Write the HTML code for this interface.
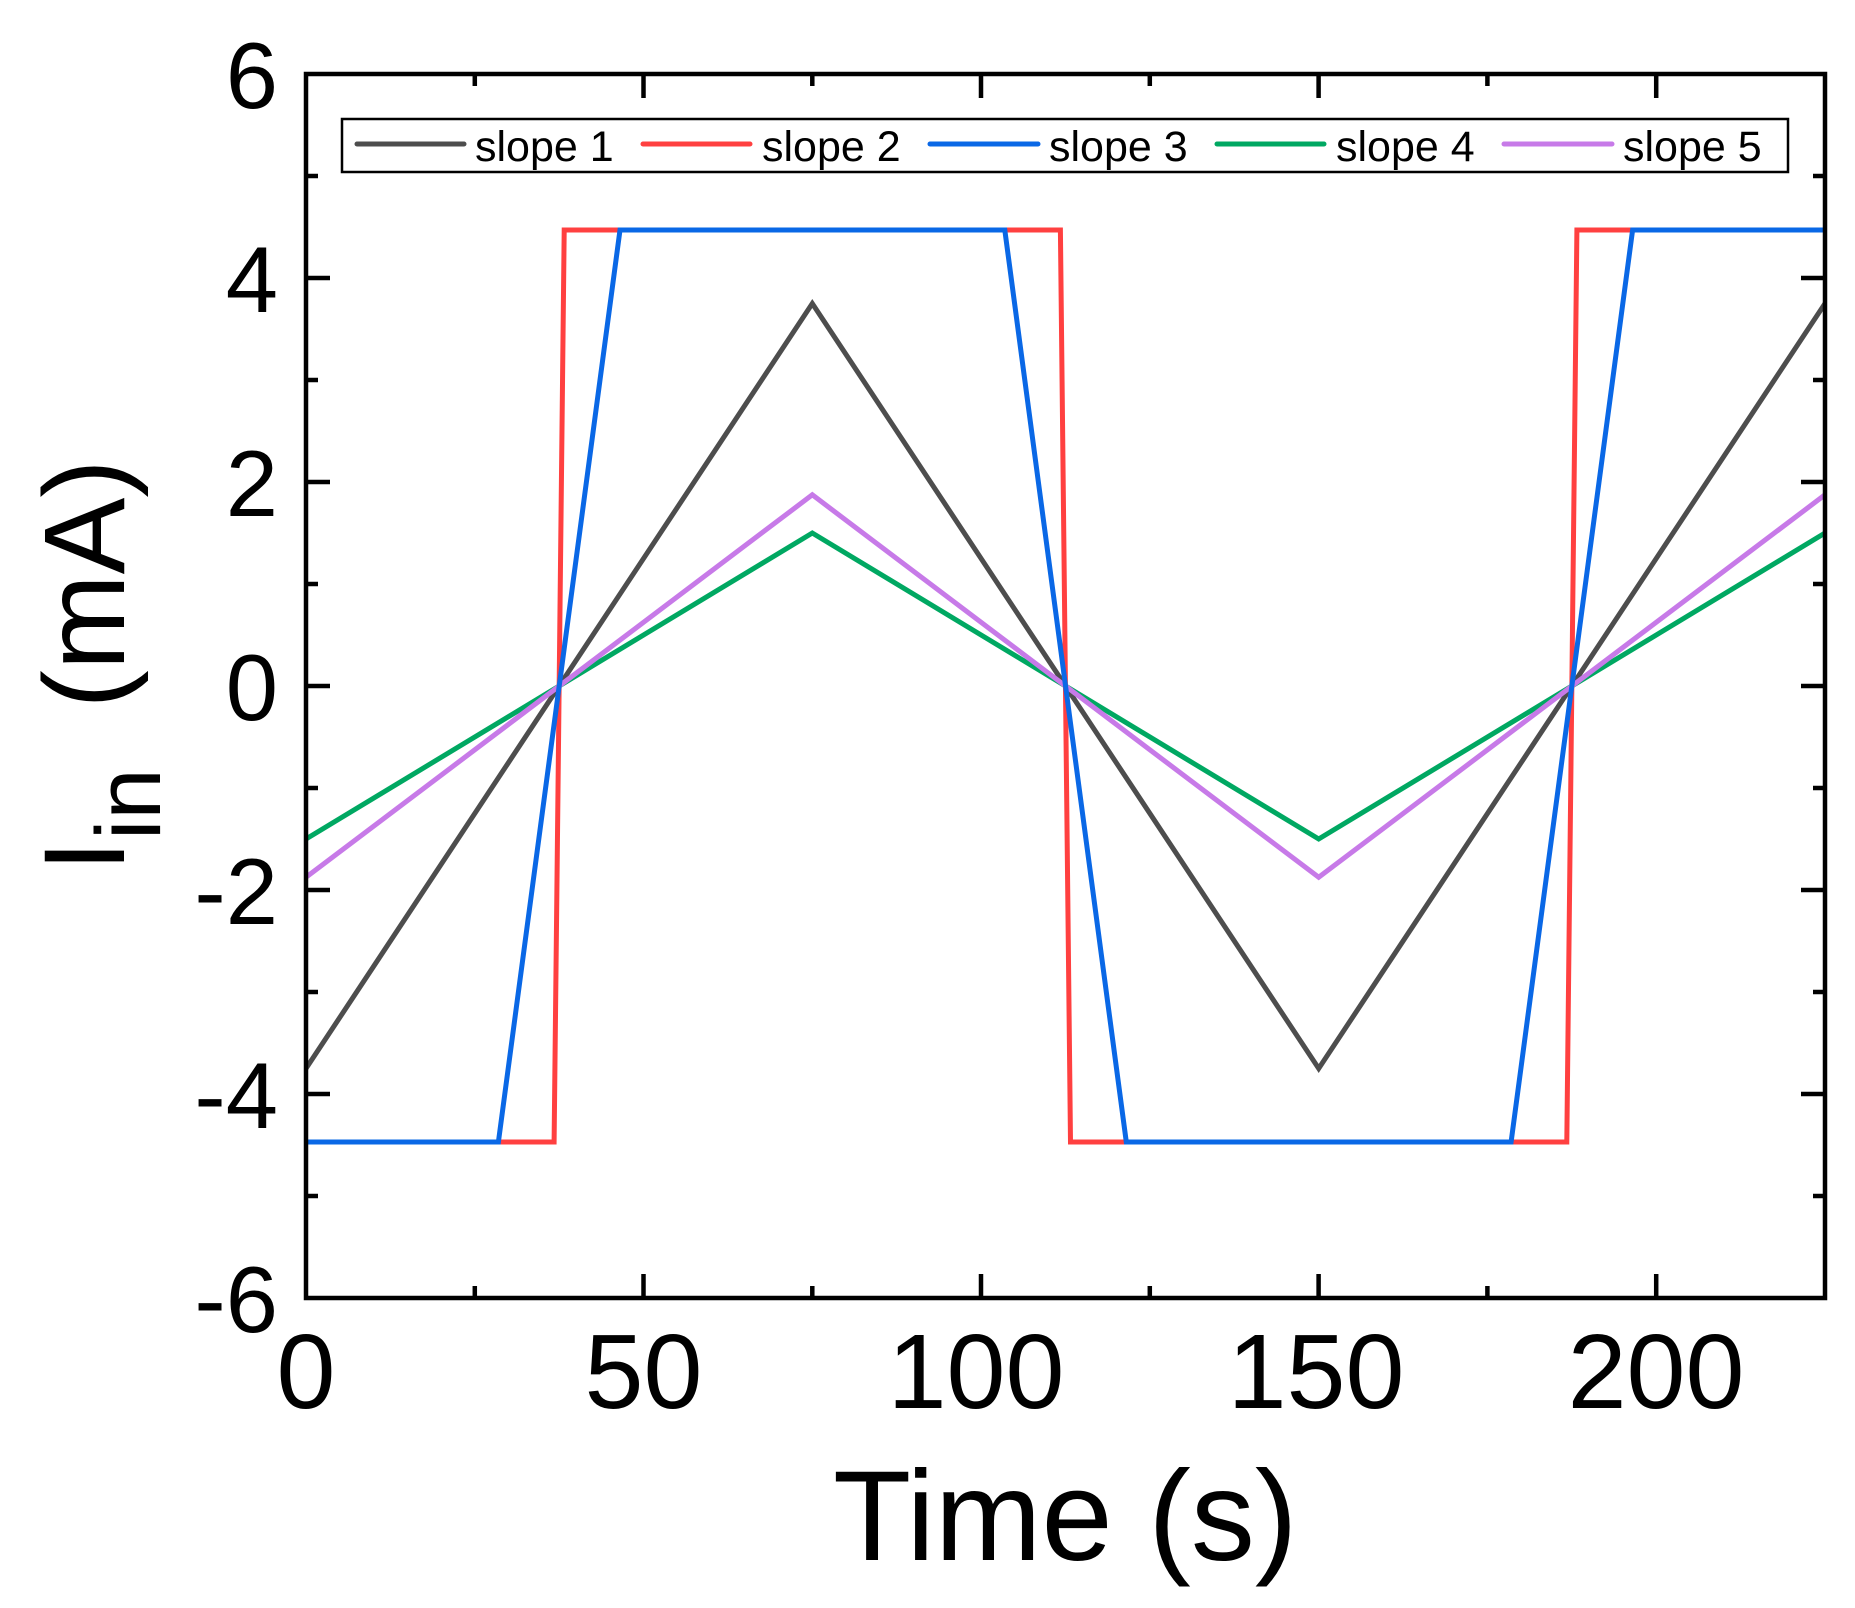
<!DOCTYPE html>
<html><head><meta charset="utf-8"><style>html,body{margin:0;padding:0;background:#fff}svg{display:block}</style></head>
<body>
<svg width="1855" height="1608" viewBox="0 0 1855 1608" xmlns="http://www.w3.org/2000/svg" font-family="Liberation Sans, Arial, sans-serif">
<rect width="1855" height="1608" fill="#fff"/>
<g fill="none" stroke-width="5" stroke-linejoin="miter">
<polyline stroke="#4d4d4d" points="306,1068.5 812.3,303.5 1318.7,1068.5 1825,303.5"/>
<polyline stroke="#00a862" points="306,839 812.3,533 1318.7,839 1825,533"/>
<polyline stroke="#c77ae8" points="306,877.3 812.3,494.8 1318.7,877.3 1825,494.8"/>
<polyline stroke="#ff4040" points="306,1142 554.1,1142 564.2,230 1060.4,230 1070.5,1142 1566.8,1142 1576.9,230 1825,230"/>
<polyline stroke="#0a68e6" points="306,1142 498.4,1142 620,230 1004.8,230 1126.3,1142 1511.1,1142 1632.6,230 1825,230"/>
</g>
<rect x="306" y="74" width="1519" height="1224" fill="none" stroke="#000" stroke-width="4.5"/>
<g stroke="#000" stroke-width="4.5">
<path d="M643.5,1298v-24M981,1298v-24M1318.6,1298v-24M1656.2,1298v-24M643.5,74v24M981,74v24M1318.6,74v24M1656.2,74v24"/>
<path d="M474.8,1298v-12M812.3,1298v-12M1149.8,1298v-12M1487.4,1298v-12M474.8,74v12M812.3,74v12M1149.8,74v12M1487.4,74v12"/>
<path d="M306,278h24M306,482h24M306,686h24M306,890h24M306,1094h24M1825,278h-24M1825,482h-24M1825,686h-24M1825,890h-24M1825,1094h-24"/>
<path d="M306,176h12M306,380h12M306,584h12M306,788h12M306,992h12M306,1196h12M1825,176h-12M1825,380h-12M1825,584h-12M1825,788h-12M1825,992h-12M1825,1196h-12"/>
</g>
<g font-size="94" text-anchor="end" fill="#000">
<text x="278" y="108">6</text>
<text x="278" y="312">4</text>
<text x="278" y="516">2</text>
<text x="278" y="720">0</text>
<text x="278" y="924">-2</text>
<text x="278" y="1128">-4</text>
<text x="278" y="1332">-6</text>
</g>
<g font-size="106" text-anchor="middle" fill="#000">
<text x="306" y="1408">0</text>
<text x="643.5" y="1408">50</text>
<text x="976" y="1408">100</text>
<text x="1316" y="1408">150</text>
<text x="1656" y="1408">200</text>
</g>
<text x="833" y="1560" font-size="128" fill="#000">Time (s)</text>
<text transform="translate(124,872) rotate(-90)" font-size="115" fill="#000">I<tspan font-size="92" dy="36">in</tspan><tspan dy="-36" dx="60">(mA)</tspan></text>
<rect x="342" y="119" width="1446" height="53" fill="#fff" stroke="#000" stroke-width="2.5"/>
<g stroke-width="5" stroke-linecap="round">
<line x1="357" y1="144" x2="464" y2="144" stroke="#4d4d4d"/>
<line x1="643" y1="144" x2="750" y2="144" stroke="#ff4040"/>
<line x1="930" y1="144" x2="1038" y2="144" stroke="#0a68e6"/>
<line x1="1217" y1="144" x2="1324" y2="144" stroke="#00a862"/>
<line x1="1504" y1="144" x2="1612" y2="144" stroke="#c77ae8"/>
</g>
<g font-size="43" fill="#000">
<text x="475" y="161">slope 1</text>
<text x="762" y="161">slope 2</text>
<text x="1049" y="161">slope 3</text>
<text x="1336" y="161">slope 4</text>
<text x="1623" y="161">slope 5</text>
</g>
</svg>
</body></html>
